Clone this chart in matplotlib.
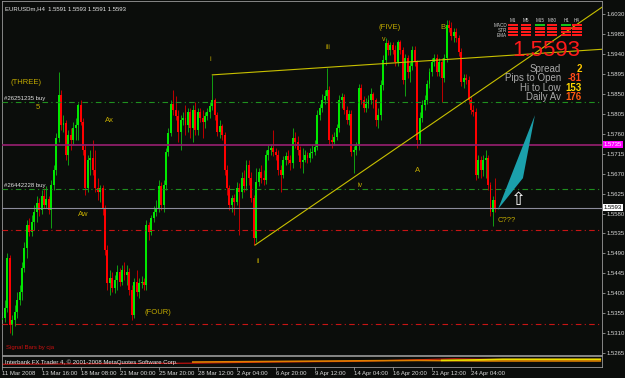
import matplotlib
matplotlib.use('Agg')
import matplotlib.pyplot as plt
import numpy as np

plt.rcParams['font.family'] = ['Liberation Sans', 'DejaVu Sans']

# EURUSDm H4 candles, prices in pips (1e-4). Each candle opens at the previous close.
first_open = 15340
close_pips = [15344,
    15367, 15480, 15328, 15340, 15358, 15385, 15403, 15457, 15502, 15554,
    15538, 15561, 15584, 15604, 15588, 15620, 15599, 15613, 15588, 15644,
    15678, 15751, 15848, 15780, 15784, 15712, 15757, 15746, 15773, 15780,
    15825, 15787, 15723, 15638, 15701, 15705, 15678, 15638, 15629, 15638,
    15593, 15498, 15423, 15435, 15412, 15430, 15448, 15426, 15453, 15441,
    15448, 15407, 15351, 15426, 15403, 15423, 15426, 15419, 15554, 15538,
    15570, 15584, 15593, 15642, 15599, 15644, 15719, 15762, 15827, 15814,
    15800, 15764, 15791, 15796, 15780, 15809, 15773, 15814, 15769, 15809,
    15796, 15787, 15800, 15809, 15823, 15836, 15802, 15764, 15778, 15757,
    15678, 15638, 15599, 15615, 15606, 15638, 15629, 15660, 15642, 15690,
    15660, 15615, 15525, 15651, 15674, 15660, 15656, 15712, 15723, 15728,
    15719, 15712, 15678, 15667, 15701, 15710, 15701, 15694, 15751, 15742,
    15723, 15696, 15701, 15712, 15705, 15717, 15719, 15730, 15802, 15818,
    15836, 15845, 15859, 15746, 15742, 15753, 15773, 15836, 15843, 15814,
    15791, 15805, 15719, 15723, 15732, 15863, 15836, 15818, 15827, 15836,
    15850, 15836, 15791, 15802, 15870, 15927, 15965, 15949, 15960, 15949,
    15922, 15967, 15949, 15881, 15931, 15899, 15913, 15949, 15922, 15746,
    15796, 15825, 15836, 15872, 15899, 15922, 15931, 15899, 15922, 15886,
    15931, 16006, 15999, 15981, 15990, 15976, 15945, 15877, 15886, 15881,
    15836, 15814, 15809, 15667, 15701, 15678, 15701, 15705, 15644, 15584,
    15611, 15591, 15593]
high_pips = [15358,
    15385, 15491, 15486, 15351, 15374, 15403, 15419, 15471, 15516, 15565,
    15570, 15577, 15599, 15620, 15615, 15633, 15638, 15642, 15620, 15656,
    15690, 15762, 15899, 15859, 15802, 15791, 15769, 15773, 15787, 15796,
    15830, 15836, 15796, 15735, 15712, 15723, 15746, 15723, 15660, 15644,
    15644, 15599, 15509, 15453, 15448, 15441, 15464, 15457, 15464, 15471,
    15464, 15457, 15419, 15435, 15453, 15435, 15439, 15435, 15565, 15561,
    15577, 15597, 15611, 15656, 15651, 15656, 15728, 15773, 15836, 15859,
    15845, 15814, 15802, 15809, 15825, 15818, 15818, 15825, 15832, 15818,
    15818, 15814, 15809, 15818, 15832, 15893, 15841, 15809, 15791, 15782,
    15764, 15690, 15644, 15622, 15624, 15651, 15649, 15674, 15678, 15701,
    15701, 15674, 15622, 15683, 15683, 15690, 15678, 15723, 15735, 15737,
    15769, 15728, 15723, 15690, 15710, 15719, 15723, 15712, 15773, 15764,
    15755, 15732, 15728, 15723, 15719, 15728, 15735, 15746, 15814, 15827,
    15850, 15859, 15909, 15868, 15760, 15764, 15782, 15848, 15852, 15850,
    15823, 15814, 15814, 15732, 15742, 15872, 15872, 15845, 15841, 15848,
    15863, 15854, 15841, 15818, 15881, 15938, 15976, 15972, 15967, 15967,
    15960, 15972, 15972, 15956, 15940, 15938, 15922, 15958, 15958, 15927,
    15809, 15836, 15848, 15881, 15909, 15931, 15940, 15940, 15931, 15931,
    15940, 16017, 16017, 16012, 15999, 15999, 15983, 15954, 15895, 15895,
    15890, 15845, 15825, 15818, 15712, 15710, 15712, 15723, 15712, 15651,
    15620, 15660, 15593]
low_pips = [15330,
    15335, 15358, 15310, 15306, 15326, 15344, 15374, 15385, 15448, 15480,
    15529, 15529, 15543, 15561, 15574, 15579, 15593, 15593, 15579, 15547,
    15633, 15667, 15742, 15769, 15764, 15701, 15690, 15723, 15735, 15746,
    15746, 15780, 15712, 15622, 15629, 15667, 15667, 15629, 15611, 15606,
    15577, 15486, 15407, 15396, 15403, 15401, 15407, 15417, 15419, 15430,
    15419, 15396, 15340, 15344, 15394, 15389, 15412, 15407, 15407, 15520,
    15532, 15561, 15574, 15584, 15588, 15584, 15633, 15710, 15755, 15802,
    15791, 15742, 15723, 15780, 15757, 15764, 15751, 15742, 15757, 15757,
    15787, 15751, 15773, 15791, 15796, 15814, 15791, 15755, 15751, 15746,
    15667, 15622, 15588, 15584, 15577, 15599, 15532, 15615, 15629, 15633,
    15644, 15606, 15509, 15516, 15642, 15649, 15644, 15647, 15701, 15712,
    15710, 15701, 15667, 15629, 15660, 15690, 15692, 15678, 15683, 15728,
    15712, 15683, 15672, 15696, 15694, 15696, 15705, 15712, 15723, 15791,
    15809, 15827, 15836, 15735, 15728, 15735, 15746, 15764, 15818, 15805,
    15782, 15780, 15710, 15672, 15712, 15723, 15827, 15809, 15809, 15818,
    15827, 15818, 15778, 15773, 15791, 15859, 15915, 15938, 15938, 15940,
    15913, 15913, 15940, 15872, 15845, 15886, 15877, 15904, 15913, 15728,
    15735, 15787, 15814, 15827, 15863, 15890, 15913, 15890, 15890, 15832,
    15877, 15922, 15990, 15972, 15967, 15967, 15936, 15868, 15863, 15872,
    15827, 15805, 15800, 15656, 15660, 15660, 15665, 15660, 15633, 15574,
    15552, 15584, 15591]

date_labels = ['11 Mar 2008', '13 Mar 16:00', '18 Mar 08:00', '21 Mar 00:00', '25 Mar 20:00',
               '28 Mar 12:00', '2 Apr 04:00', '6 Apr 20:00', '9 Apr 12:00', '14 Apr 04:00',
               '16 Apr 20:00', '21 Apr 12:00', '24 Apr 04:00']
bars_per_label = 16

price_ticks = [1.6030, 1.5985, 1.5940, 1.5895, 1.5850, 1.5805, 1.5760, 1.5715, 1.5670,
               1.5625, 1.5580, 1.5535, 1.5490, 1.5445, 1.5400, 1.5355, 1.5310, 1.5265]

# horizontal lines: orders, stops, marker lines
buy_orders = {'#26251235 buy': 1.5832, '#26442228 buy': 1.5635}
stop_levels = [1.5543, 1.5331]
marker_level = 1.5735
bid = 1.5593

# wave trend lines (bar index, price)
channel_pts = [(86, 1.5893), (133, 1.5910)]
trend_pts = [(103.5, 1.5509), (195.7, 1.5857)]

# projection shape and arrow
proj_bars = [203.1, 213.3, 218.2]
proj_prices = [1.5590, 1.5660, 1.5802]

wave_labels = [('(THREE)', 9.6, 1.5875, 5.5), ('5', 14.5, 1.5820, 5.5), ('Ax', 44, 1.5791, 5.5),
               ('Aw', 33, 1.5579, 5.5), ('(FOUR)', 63.7, 1.5356, 5.5), ('i', 85, 1.5927, 5),
               ('ii', 104.7, 1.5471, 5), ('iii', 133.4, 1.5954, 5), ('(FIVE)', 158.8, 1.5999, 5.5),
               ('v', 156.4, 1.5972, 5), ('iv', 146.5, 1.5644, 5), ('A', 170.3, 1.5678, 5.5),
               ('B', 180.5, 1.6001, 5.5), ('C???', 206.8, 1.5565, 5.5)]

# sub window indicator (relative 0..1)
sub_red_x = [0, 40, 80, 110, 140, 160, 185, 200, 245]
sub_red_y = [0.25, 0.3, 0.35, 0.45, 0.5, 0.6, 0.75, 0.7, 0.7]
sub_orange_x = [78, 110, 140, 170, 200, 245]
sub_orange_y = [0.45, 0.5, 0.55, 0.6, 0.55, 0.55]
sub_yellow_x = [180, 195, 205, 245]
sub_yellow_y = [0.6, 0.65, 0.7, 0.7]

panel_cols = ['M1', 'M5', 'M15', 'M30', 'H1', 'H4']
panel_rows = ['MACD', 'STR', 'EMA']
panel_green = [(0, 2), (0, 4)]   # (block row, column) shown green, the rest red
panel_stats = [('Spread', '2', '#ffc800'), ('Pips to Open', '-81', '#ff4a1a'),
               ('Hi to Low', '153', '#ffd800'), ('Daily Av', '176', '#ff5a10')]

BG = '#0b0d0b'
W, H = 625, 378


def fx(x):
    return x / W


def fy(y):
    return 1 - y / H


opens = np.array([first_open] + close_pips[:-1]) / 1e4
close = np.array(close_pips) / 1e4
high = np.array(high_pips) / 1e4
low = np.array(low_pips) / 1e4
x = np.arange(len(close))

fig = plt.figure(figsize=(6.25, 3.78), dpi=100, facecolor=BG)
ax = fig.add_axes([fx(2), fy(355), fx(600), 354 / H], facecolor=BG)
sub = fig.add_axes([fx(2), fy(367), fx(600), 11 / H], facecolor=BG)

xmin, xmax = -0.2, 245.7
ax.set_xlim(xmin, xmax)
ax.set_ylim(1.52608, 1.60597)

up = close >= opens
ax.vlines(x[up], low[up], high[up], color='#12a012', lw=0.7, zorder=2)
ax.vlines(x[~up], low[~up], high[~up], color='#c00000', lw=0.7, zorder=2)
bottom = np.minimum(opens, close)
height = np.maximum(np.abs(close - opens), 0.00005)
ax.bar(x[up], height[up], bottom=bottom[up], width=0.8, color='#00e800', lw=0, zorder=3)
ax.bar(x[~up], height[~up], bottom=bottom[~up], width=0.8, color='#ff0000', lw=0, zorder=3)

for name, lvl in buy_orders.items():
    ax.axhline(lvl, color='#1f8f1f', lw=0.8, dashes=(5, 3, 1, 3), zorder=4)
    ax.text(0.8, lvl + 0.0002, name, color='#e0e0e0', fontsize=4.3, va='bottom', zorder=6)
for lvl in stop_levels:
    ax.axhline(lvl, color='#c81414', lw=0.8, dashes=(5, 3, 1, 3), zorder=4)
ax.axhline(marker_level, color='#8e1e6a', lw=1.3, zorder=4)
ax.axhline(bid, color='#8c8c9c', lw=0.8, zorder=4)

for (b0, p0), (b1, p1) in [channel_pts, trend_pts]:
    slope = (p1 - p0) / (b1 - b0)
    ax.plot([b0, xmax], [p0, p0 + slope * (xmax - b0)], color='#c8c000', lw=0.8, zorder=5)

ax.fill(proj_bars, proj_prices, color='#1ba0ac', lw=0, zorder=5)
ax.text(211.3, 1.5611, '\u21e7', color='white', fontsize=13, ha='center', va='center',
        family=['DejaVu Sans'], zorder=6)

for txt, b, p, fs in wave_labels:
    ax.text(b, p, txt, color='#c2aa00', fontsize=fs, ha='center', va='center', zorder=6)

ax.text(0.005, 0.985, 'EURUSDm,H4  1.5591 1.5593 1.5591 1.5593', transform=ax.transAxes,
        color='#e6e6e6', fontsize=4.3, va='top')
ax.text(0.006, 0.02, 'Signal Bars by cja', transform=ax.transAxes, color='#cc1010',
        fontsize=4.3, va='center')

ax.yaxis.tick_right()
ax.set_yticks(price_ticks)
ax.set_yticklabels(['%.4f' % t for t in price_ticks])
ax.tick_params(axis='y', colors='#b4b4b4', labelcolor='#d8d8d8', labelsize=4.3, length=2, pad=1.5, width=0.5)
ax.set_xticks([])
for s in ax.spines.values():
    s.set_color('#9a9a9a')
    s.set_linewidth(0.6)

# price tags on the axis
ax.text(1.003, marker_level, '1.5735', transform=ax.get_yaxis_transform(), color='white',
        fontsize=4.3, va='center', bbox=dict(boxstyle='square,pad=0.15', fc='#ff00ff', ec='none'))
ax.text(1.003, bid, '1.5593', transform=ax.get_yaxis_transform(), color='black',
        fontsize=4.3, va='center', bbox=dict(boxstyle='square,pad=0.15', fc='white', ec='none'))

# sub window
sub.set_xlim(xmin, xmax)
sub.set_ylim(0, 1)
sub.plot(sub_red_x, sub_red_y, color='#d01010', lw=0.8)
sub.plot(sub_orange_x, sub_orange_y, color='#e08000', lw=1.2)
sub.plot(sub_yellow_x, sub_yellow_y, color='#e8e000', lw=1.2)
sub.text(0.005, 0.45, 'Interbank FX Trader 4, \u00a9 2001-2008 MetaQuotes Software Corp.',
         transform=sub.transAxes, color='#e6e6e6', fontsize=4.3, va='center')
sub.set_yticks([])
sub.set_xticks(np.arange(len(date_labels)) * bars_per_label)
sub.set_xticklabels(date_labels, ha='left')
sub.tick_params(axis='x', colors='#b4b4b4', labelcolor='#d8d8d8', labelsize=4.3, length=2, pad=1, width=0.5)
for s in sub.spines.values():
    s.set_color('#9a9a9a')
    s.set_linewidth(0.6)

# info panel, top right
col_x = [513, 526, 540, 552, 566, 577]
block_y = [25, 28.4, 31.8, 35.2]
for cx, name in zip(col_x, panel_cols):
    fig.text(fx(cx), fy(20), name, color='#d0d0d0', fontsize=3.3, ha='center', va='center')
for r, name in enumerate(panel_rows):
    fig.text(fx(507), fy(25.5 + 5 * r), name, color='#d0d0d0', fontsize=3.3, ha='right', va='center')
for r, by in enumerate(block_y):
    for c, cx in enumerate(col_x):
        colr = '#18c018' if (r, c) in panel_green else '#ff1a1a'
        fig.patches.append(plt.Rectangle((fx(cx - 5), fy(by + 1.1)), fx(10), 2.2 / H,
                                         transform=fig.transFigure, color=colr, lw=0))
fig.text(fx(546), fy(51), '1.5593', color='#ff1a1a', fontsize=16, ha='center', va='center')
for i, (lab, val, colr) in enumerate(panel_stats):
    yy = 69 + 9.3 * i
    fig.text(fx(561), fy(yy), lab, color='#a8a8a8', fontsize=7, ha='right', va='center')
    fig.text(fx(582), fy(yy), val, color=colr, fontsize=7, ha='right', va='center', weight='bold')

fig.savefig('out.png', dpi=100, facecolor=BG)
